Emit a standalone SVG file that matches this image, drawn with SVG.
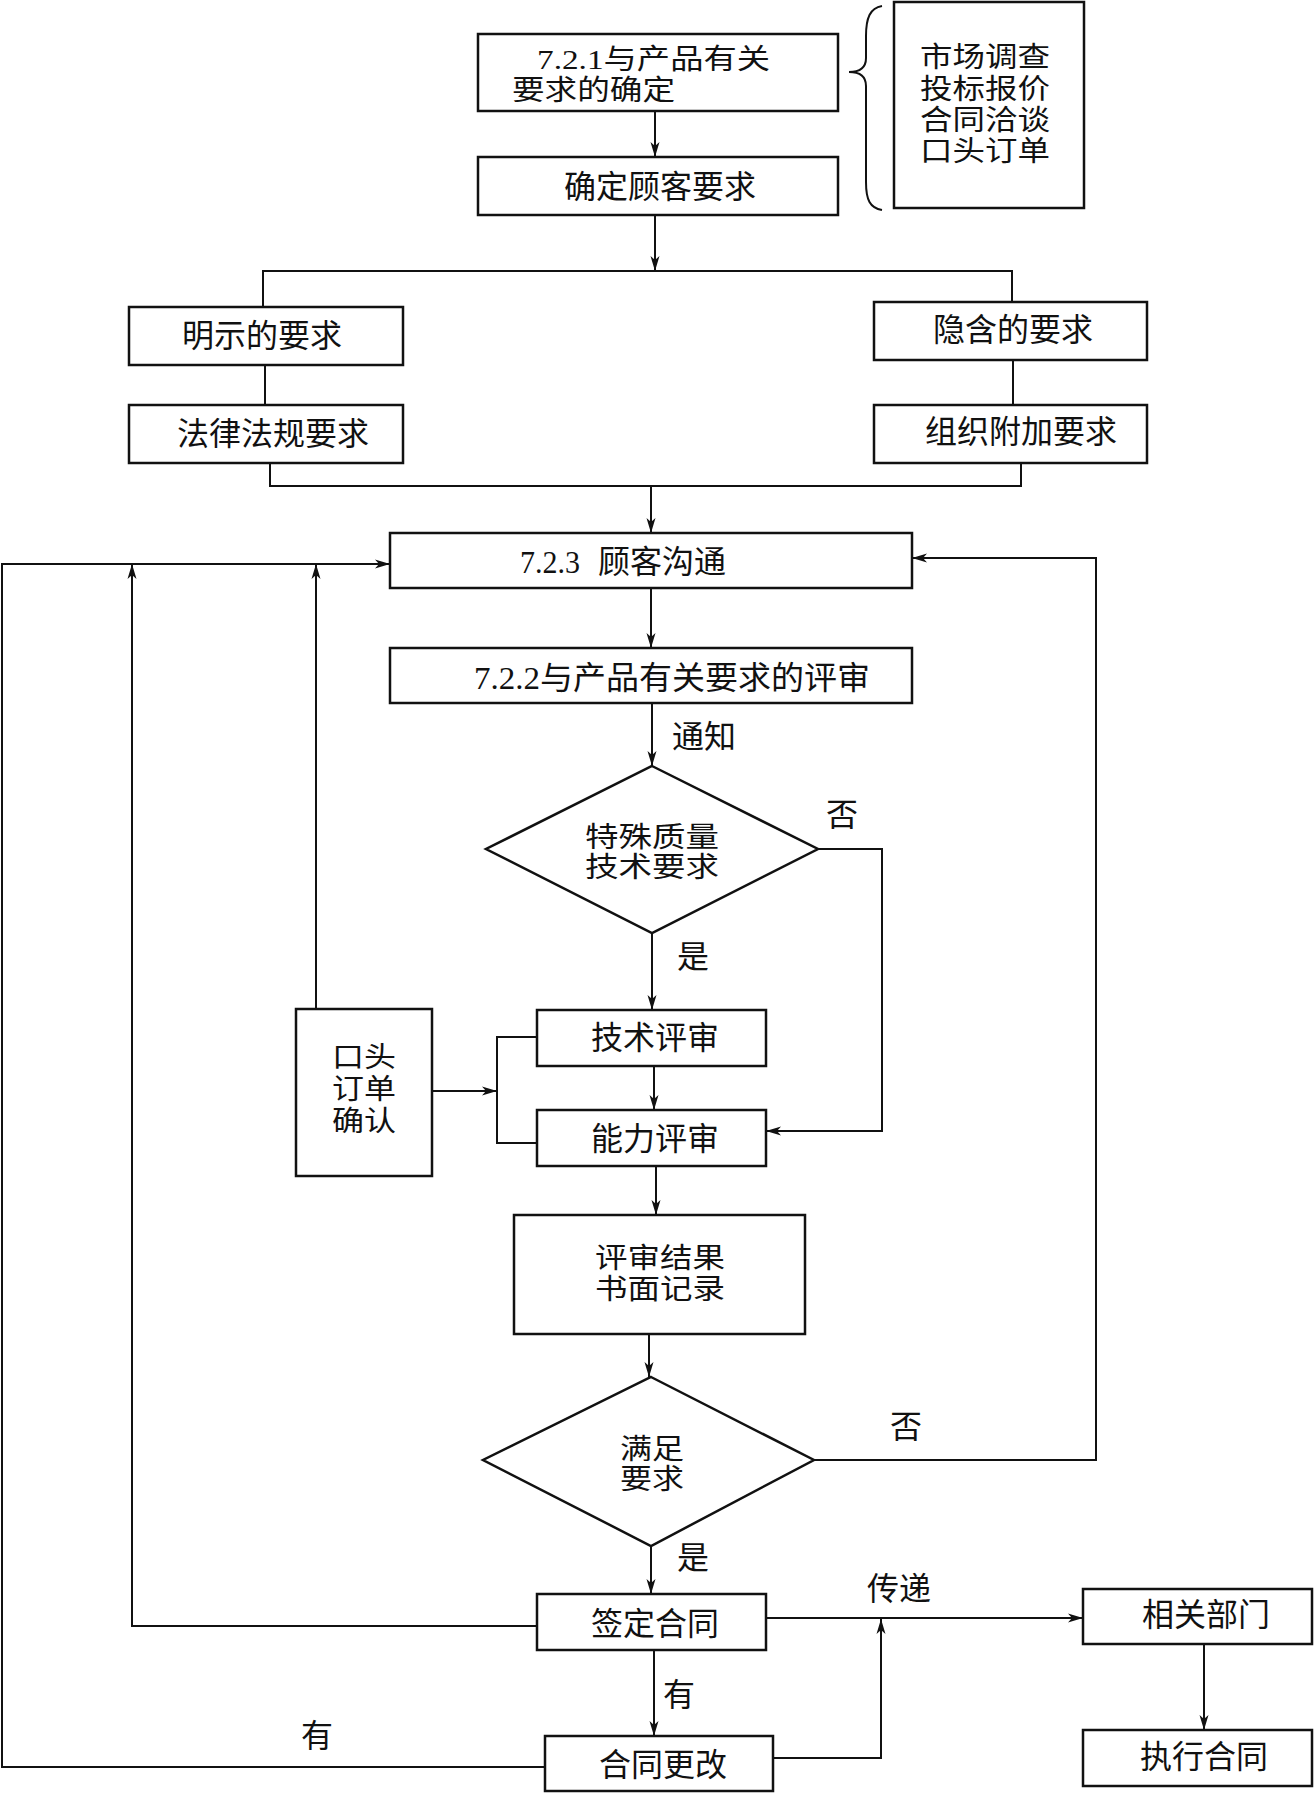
<svg xmlns="http://www.w3.org/2000/svg" width="1315" height="1793" viewBox="0 0 1315 1793">
<style>
.box{fill:#fff;stroke:#111;stroke-width:2.5}
.ln{fill:none;stroke:#111;stroke-width:2}
.t{font-family:"Liberation Serif","Noto Sans CJK SC",serif;font-size:32px;fill:#111}
.m{font-size:28px}
.c{text-anchor:middle}
</style>
<defs>
<marker id="ah" markerUnits="userSpaceOnUse" markerWidth="16" markerHeight="10" refX="15" refY="5" orient="auto">
<path d="M0,0.5 L15,5 L0,9.5 L4,5 z" fill="#111"/>
</marker>
</defs>
<rect x="0" y="0" width="1315" height="1793" fill="#fff"/>
<g id="connectors">
<path class="ln" d="M655,111 V157" marker-end="url(#ah)"/>
<path class="ln" d="M655,215 V271" marker-end="url(#ah)"/>
<path class="ln" d="M263,307 V271 H1012 V302"/>
<path class="ln" d="M265,365 V405"/>
<path class="ln" d="M1013,360 V405"/>
<path class="ln" d="M270,463 V486 H1021 V463"/>
<path class="ln" d="M651,486 V533" marker-end="url(#ah)"/>
<path class="ln" d="M545,1767 H2 V564 H390" marker-end="url(#ah)"/>
<path class="ln" d="M537,1626 H132 V564" marker-end="url(#ah)"/>
<path class="ln" d="M316,1009 V564" marker-end="url(#ah)"/>
<path class="ln" d="M814,1460 H1096 V558 H912" marker-end="url(#ah)"/>
<path class="ln" d="M651,588 V648" marker-end="url(#ah)"/>
<path class="ln" d="M652,703 V766" marker-end="url(#ah)"/>
<path class="ln" d="M818,849 H882 V1131 H766" marker-end="url(#ah)"/>
<path class="ln" d="M652,933 V1010" marker-end="url(#ah)"/>
<path class="ln" d="M654,1066 V1110" marker-end="url(#ah)"/>
<path class="ln" d="M537,1037 H497 V1143 H537"/>
<path class="ln" d="M432,1091 H497" marker-end="url(#ah)"/>
<path class="ln" d="M656,1166 V1215" marker-end="url(#ah)"/>
<path class="ln" d="M649,1334 V1377" marker-end="url(#ah)"/>
<path class="ln" d="M651,1546 V1594" marker-end="url(#ah)"/>
<path class="ln" d="M766,1618 H1083" marker-end="url(#ah)"/>
<path class="ln" d="M773,1758 H881 V1619" marker-end="url(#ah)"/>
<path class="ln" d="M1204,1644 V1730" marker-end="url(#ah)"/>
<path class="ln" d="M654,1650 V1736" marker-end="url(#ah)"/>
<path class="ln" d="M882,6 C870,8 866,18 866,36 L866,58 C866,67 860,72 849,72 C860,72 866,77 866,86 L866,182 C866,200 870,208 882,210"/>
<text class="t c" x="704" y="748">通知</text>
<text class="t c" x="842" y="826">否</text>
<text class="t c" x="693" y="968">是</text>
<text class="t c" x="906" y="1438">否</text>
<text class="t c" x="693" y="1569">是</text>
<text class="t c" x="899" y="1600">传递</text>
<text class="t c" x="679" y="1706">有</text>
<text class="t c" x="317" y="1747">有</text>
</g>
<g id="n-721">
<rect class="box" x="478" y="34" width="360" height="77"/>
<text class="t m"><tspan x="537" y="69" textLength="233" lengthAdjust="spacingAndGlyphs">7.2.1与产品有关</tspan><tspan x="512" y="100" textLength="163" lengthAdjust="spacingAndGlyphs">要求的确定</tspan></text>
</g>
<g id="n-customer">
<rect class="box" x="478" y="157" width="360" height="58"/>
<text class="t c" x="660" y="198">确定顾客要求</text>
</g>
<g id="n-sources">
<rect class="box" x="894" y="2" width="190" height="206"/>
<text class="t m"><tspan x="920" y="67" textLength="130" lengthAdjust="spacingAndGlyphs">市场调查</tspan><tspan x="920" y="99" textLength="130" lengthAdjust="spacingAndGlyphs">投标报价</tspan><tspan x="920" y="130" textLength="130" lengthAdjust="spacingAndGlyphs">合同洽谈</tspan><tspan x="920" y="161" textLength="130" lengthAdjust="spacingAndGlyphs">口头订单</tspan></text>
</g>
<g id="n-explicit">
<rect class="box" x="129" y="307" width="274" height="58"/>
<text class="t c" x="262" y="347">明示的要求</text>
</g>
<g id="n-implicit">
<rect class="box" x="874" y="302" width="273" height="58"/>
<text class="t c" x="1013" y="341">隐含的要求</text>
</g>
<g id="n-law">
<rect class="box" x="129" y="405" width="274" height="58"/>
<text class="t c" x="273" y="445">法律法规要求</text>
</g>
<g id="n-org">
<rect class="box" x="874" y="405" width="273" height="58"/>
<text class="t c" x="1021" y="443">组织附加要求</text>
</g>
<g id="n-723">
<rect class="box" x="390" y="533" width="522" height="55"/>
<text class="t" y="573"><tspan x="520" textLength="60" lengthAdjust="spacingAndGlyphs">7.2.3</tspan><tspan x="598">顾客沟通</tspan></text>
</g>
<g id="n-722">
<rect class="box" x="390" y="648" width="522" height="55"/>
<text class="t" x="474" y="689" textLength="396" lengthAdjust="spacingAndGlyphs">7.2.2与产品有关要求的评审</text>
</g>
<g id="n-special">
<polygon class="box" points="652,766 818,849 652,933 486,849"/>
<text class="t m"><tspan x="585" y="847" textLength="134" lengthAdjust="spacingAndGlyphs">特殊质量</tspan><tspan x="585" y="877" textLength="134" lengthAdjust="spacingAndGlyphs">技术要求</tspan></text>
</g>
<g id="n-tech">
<rect class="box" x="537" y="1010" width="229" height="56"/>
<text class="t c" x="655" y="1049">技术评审</text>
</g>
<g id="n-capability">
<rect class="box" x="537" y="1110" width="229" height="56"/>
<text class="t c" x="655" y="1150">能力评审</text>
</g>
<g id="n-oral">
<rect class="box" x="296" y="1009" width="136" height="167"/>
<text class="t m"><tspan x="332" y="1067" textLength="64" lengthAdjust="spacingAndGlyphs">口头</tspan><tspan x="332" y="1099" textLength="64" lengthAdjust="spacingAndGlyphs">订单</tspan><tspan x="332" y="1131" textLength="64" lengthAdjust="spacingAndGlyphs">确认</tspan></text>
</g>
<g id="n-record">
<rect class="box" x="514" y="1215" width="291" height="119"/>
<text class="t m"><tspan x="595" y="1268" textLength="130" lengthAdjust="spacingAndGlyphs">评审结果</tspan><tspan x="595" y="1299" textLength="130" lengthAdjust="spacingAndGlyphs">书面记录</tspan></text>
</g>
<g id="n-satisfy">
<polygon class="box" points="651,1377 814,1460 651,1546 483,1460"/>
<text class="t m"><tspan x="620" y="1459" textLength="64" lengthAdjust="spacingAndGlyphs">满足</tspan><tspan x="620" y="1489" textLength="64" lengthAdjust="spacingAndGlyphs">要求</tspan></text>
</g>
<g id="n-sign">
<rect class="box" x="537" y="1594" width="229" height="56"/>
<text class="t c" x="655" y="1635">签定合同</text>
</g>
<g id="n-dept">
<rect class="box" x="1083" y="1589" width="229" height="55"/>
<text class="t c" x="1206" y="1626">相关部门</text>
</g>
<g id="n-change">
<rect class="box" x="545" y="1736" width="228" height="55"/>
<text class="t c" x="663" y="1776">合同更改</text>
</g>
<g id="n-exec">
<rect class="box" x="1083" y="1730" width="229" height="56"/>
<text class="t c" x="1204" y="1768">执行合同</text>
</g>
</svg>
